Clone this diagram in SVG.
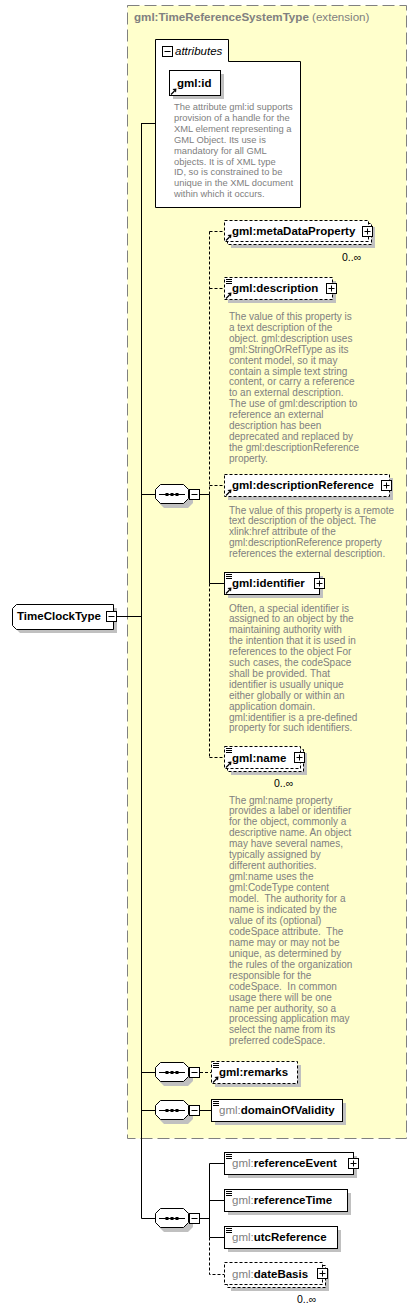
<svg xmlns="http://www.w3.org/2000/svg" xmlns:xlink="http://www.w3.org/1999/xlink" width="418" height="1312" viewBox="0 0 418 1312">
<style>
.lbl{font-family:"Liberation Sans",Arial,sans-serif;font-size:11.5px;font-weight:bold;fill:#000}
.gry{fill:#808080}
.doc{font-family:"Liberation Sans",Arial,sans-serif;font-size:10px;fill:#808080}
.occ{font-family:"Liberation Sans",Arial,sans-serif;font-size:10.5px;fill:#000}
.box{fill:#fff;stroke:#000;stroke-width:1}
.dbox{fill:#fff;stroke:#000;stroke-width:1;stroke-dasharray:3,2}
.sh{fill:#c0c0c0}
.ln{stroke:#000;stroke-width:1;fill:none}
.dln{stroke:#000;stroke-width:1;fill:none;stroke-dasharray:3,2}
</style>
<defs>
<g id="plus"><rect x="0.5" y="0.5" width="10" height="10" fill="#fff" stroke="#000"/><path d="M2.5 5.5h6M5.5 2.5v6" stroke="#000"/></g>
<g id="minus"><rect x="0.5" y="0.5" width="10" height="10" fill="#fff" stroke="#000"/><path d="M2.5 5.5h6" stroke="#000"/></g>
<g id="ref"><path d="M1 6.5 L4.5 3" stroke="#000" stroke-width="1.3"/><path d="M2.5 1 L6.5 0.5 L6 4.5 Z" fill="#000"/></g>
<g id="docic"><path d="M0 0.5h6M0 2.5h6M0 4.5h6" stroke="#000"/></g>
<g id="seq">
<polygon points="9,4 33,4 38,9 38,19 33,24 9,24 4,19 4,9" class="sh"/>
<polygon points="5.5,0.5 28.5,0.5 33.5,5.5 33.5,14.5 28.5,19.5 5.5,19.5 0.5,14.5 0.5,5.5" class="box"/>
<path d="M4 10.5h26" stroke="#000"/>
<rect x="10.5" y="9" width="3" height="3" fill="#000"/><rect x="15.5" y="9" width="3" height="3" fill="#000"/><rect x="20.5" y="9" width="3" height="3" fill="#000"/>
<use xlink:href="#minus" x="34" y="5"/>
</g>
</defs>

<g id="extension">
<rect x="127.5" y="5.5" width="279" height="1133" fill="#ffffcc" stroke="#808080" stroke-dasharray="12,5"/>
<text x="134" y="21" class="lbl gry" style="font-size:11.6px">gml:TimeReferenceSystemType <tspan style="font-weight:normal">(extension)</tspan></text>
</g>

<g id="connectors">
<path class="ln" d="M117 616.5H141.5M141.5 123V1218.5M141.5 123.5H155M141.5 494.5H155M141.5 1072.5H155M141.5 1110.5H155M141.5 1218.5H155"/>
<path class="ln" d="M200 494.5H209.5M209.5 494.5V583.5M209.5 583.5H224"/>
<path class="dln" d="M209.5 231.5V494.5M209.5 583.5V757.5M209.5 231.5H224M209.5 288.5H224M209.5 485.5H224M209.5 757.5H224"/>
<path class="dln" d="M200 1072.5H211"/>
<path class="ln" d="M200 1110.5H211"/>
<path class="ln" d="M200 1218.5H209.5M209.5 1163.5V1237.5M209.5 1163.5H224M209.5 1200.5H224M209.5 1237.5H224"/>
<path class="dln" d="M209.5 1237.5V1274.5H224"/>
</g>

<g id="TimeClockType">
<path d="M20 608H117V633H20L16 629V612Z" class="sh"/>
<path d="M16.5 604.5H113.5V629.5H16.5L12.5 625.5V608.5Z" class="box"/>
<text x="17" y="620" class="lbl">TimeClockType</text>
<use xlink:href="#minus" x="106" y="611"/>
</g>

<g id="attributes">
<path d="M155.5 39.5H228.5V61.5H300.5V207.5H155.5Z" class="box"/>
<use xlink:href="#minus" x="162" y="46"/>
<text x="175" y="55" style="font-family:'Liberation Sans',Arial,sans-serif;font-size:11.5px;font-style:italic">attributes</text>
</g>

<g id="gml_id">
<rect x="173" y="74" width="51" height="25" class="sh"/>
<rect x="169.5" y="70.5" width="51" height="25" class="box"/>
<text x="177" y="87" class="lbl">gml:id</text>
<use xlink:href="#ref" x="170" y="88"/>
<text class="doc" style="font-size:9.4px" x="174" y="110">The attribute gml:id supports<tspan x="174" dy="10.9">provision of a handle for the</tspan><tspan x="174" dy="10.9">XML element representing a</tspan><tspan x="174" dy="10.9">GML Object. Its use is</tspan><tspan x="174" dy="10.9">mandatory for all GML</tspan><tspan x="174" dy="10.9">objects. It is of XML type</tspan><tspan x="174" dy="10.9">ID, so is constrained to be</tspan><tspan x="174" dy="10.9">unique in the XML document</tspan><tspan x="174" dy="10.9">within which it occurs.</tspan></text>
</g>

<g id="seq1"><use xlink:href="#seq" x="155" y="484"/></g>

<g id="metaDataProperty">
<rect x="231" y="227" width="144" height="21" class="sh"/>
<rect x="227.5" y="223.5" width="144" height="21" class="dbox"/>
<rect x="224.5" y="220.5" width="144" height="21" class="dbox"/>
<text x="232" y="235" class="lbl">gml:metaDataProperty</text>
<use xlink:href="#ref" x="225" y="234"/>
<use xlink:href="#plus" x="362" y="226"/>
<text x="342" y="261" class="occ">0..∞</text>
</g>

<g id="description">
<rect x="228" y="281" width="108" height="22" class="sh"/>
<rect x="224.5" y="277.5" width="108" height="22" class="dbox"/>
<use xlink:href="#docic" x="226" y="279"/>
<text x="232" y="292" class="lbl">gml:description</text>
<use xlink:href="#ref" x="225" y="292"/>
<use xlink:href="#plus" x="326" y="283"/>
<text class="doc" x="229" y="320">The value of this property is<tspan x="229" dy="10.9">a text description of the</tspan><tspan x="229" dy="10.9">object. gml:description uses</tspan><tspan x="229" dy="10.9">gml:StringOrRefType as its</tspan><tspan x="229" dy="10.9">content model, so it may</tspan><tspan x="229" dy="10.9">contain a simple text string</tspan><tspan x="229" dy="10.9">content, or carry a reference</tspan><tspan x="229" dy="10.9">to an external description.</tspan><tspan x="229" dy="10.9">The use of gml:description to</tspan><tspan x="229" dy="10.9">reference an external</tspan><tspan x="229" dy="10.9">description has been</tspan><tspan x="229" dy="10.9">deprecated and replaced by</tspan><tspan x="229" dy="10.9">the gml:descriptionReference</tspan><tspan x="229" dy="10.9">property.</tspan></text>
</g>

<g id="descriptionReference">
<rect x="228" y="478" width="165" height="22" class="sh"/>
<rect x="224.5" y="474.5" width="165" height="22" class="dbox"/>
<text x="232" y="489" class="lbl">gml:descriptionReference</text>
<use xlink:href="#ref" x="225" y="489"/>
<use xlink:href="#plus" x="381" y="480"/>
<text class="doc" x="229" y="513.5">The value of this property is a remote<tspan x="229" dy="10.9">text description of the object. The</tspan><tspan x="229" dy="10.9">xlink:href attribute of the</tspan><tspan x="229" dy="10.9">gml:descriptionReference property</tspan><tspan x="229" dy="10.9">references the external description.</tspan></text>
</g>

<g id="identifier">
<rect x="228" y="576" width="95" height="22" class="sh"/>
<rect x="224.5" y="572.5" width="95" height="22" class="box"/>
<use xlink:href="#docic" x="226" y="574"/>
<text x="232" y="587" class="lbl">gml:identifier</text>
<use xlink:href="#ref" x="225" y="587"/>
<use xlink:href="#plus" x="314" y="578"/>
<text class="doc" x="229" y="611.5">Often, a special identifier is<tspan x="229" dy="10.9">assigned to an object by the</tspan><tspan x="229" dy="10.9">maintaining authority with</tspan><tspan x="229" dy="10.9">the intention that it is used in</tspan><tspan x="229" dy="10.9">references to the object For</tspan><tspan x="229" dy="10.9">such cases, the codeSpace</tspan><tspan x="229" dy="10.9">shall be provided. That</tspan><tspan x="229" dy="10.9">identifier is usually unique</tspan><tspan x="229" dy="10.9">either globally or within an</tspan><tspan x="229" dy="10.9">application domain.</tspan><tspan x="229" dy="10.9">gml:identifier is a pre-defined</tspan><tspan x="229" dy="10.9">property for such identifiers.</tspan></text>
</g>

<g id="name">
<rect x="231" y="753" width="76" height="22" class="sh"/>
<rect x="227.5" y="749.5" width="76" height="22" class="dbox"/>
<rect x="224.5" y="746.5" width="76" height="22" class="dbox"/>
<use xlink:href="#docic" x="226" y="748"/>
<text x="232" y="762" class="lbl">gml:name</text>
<use xlink:href="#ref" x="225" y="761"/>
<use xlink:href="#plus" x="294" y="752"/>
<text x="274" y="787" class="occ">0..∞</text>
<text class="doc" x="229" y="803.5">The gml:name property<tspan x="229" dy="10.95">provides a label or identifier</tspan><tspan x="229" dy="10.95">for the object, commonly a</tspan><tspan x="229" dy="10.95">descriptive name. An object</tspan><tspan x="229" dy="10.95">may have several names,</tspan><tspan x="229" dy="10.95">typically assigned by</tspan><tspan x="229" dy="10.95">different authorities.</tspan><tspan x="229" dy="10.95">gml:name uses the</tspan><tspan x="229" dy="10.95">gml:CodeType content</tspan><tspan x="229" dy="10.95" xml:space="preserve">model.  The authority for a</tspan><tspan x="229" dy="10.95">name is indicated by the</tspan><tspan x="229" dy="10.95">value of its (optional)</tspan><tspan x="229" dy="10.95" xml:space="preserve">codeSpace attribute.  The</tspan><tspan x="229" dy="10.95">name may or may not be</tspan><tspan x="229" dy="10.95">unique, as determined by</tspan><tspan x="229" dy="10.95">the rules of the organization</tspan><tspan x="229" dy="10.95">responsible for the</tspan><tspan x="229" dy="10.95" xml:space="preserve">codeSpace.  In common</tspan><tspan x="229" dy="10.95">usage there will be one</tspan><tspan x="229" dy="10.95">name per authority, so a</tspan><tspan x="229" dy="10.95">processing application may</tspan><tspan x="229" dy="10.95">select the name from its</tspan><tspan x="229" dy="10.95">preferred codeSpace.</tspan></text>
</g>

<g id="seq2"><use xlink:href="#seq" x="155" y="1062"/></g>

<g id="remarks">
<rect x="215" y="1065" width="86" height="22" class="sh"/>
<rect x="211.5" y="1061.5" width="86" height="22" class="dbox"/>
<use xlink:href="#docic" x="213" y="1063"/>
<text x="219" y="1076" class="lbl">gml:remarks</text>
<use xlink:href="#ref" x="212" y="1076"/>
</g>

<g id="seq3"><use xlink:href="#seq" x="155" y="1100"/></g>

<g id="domainOfValidity">
<rect x="215" y="1103" width="131" height="22" class="sh"/>
<rect x="211.5" y="1099.5" width="131" height="22" class="box"/>
<use xlink:href="#docic" x="213" y="1101"/>
<text x="219" y="1114" class="lbl"><tspan class="gry" style="font-weight:normal">gml:</tspan>domainOfValidity</text>
</g>

<g id="seq4"><use xlink:href="#seq" x="155" y="1208"/></g>

<g id="referenceEvent">
<rect x="228" y="1156" width="129" height="22" class="sh"/>
<rect x="224.5" y="1152.5" width="129" height="22" class="box"/>
<use xlink:href="#docic" x="226" y="1154"/>
<text x="232" y="1167" class="lbl"><tspan class="gry" style="font-weight:normal">gml:</tspan>referenceEvent</text>
<use xlink:href="#plus" x="348" y="1158"/>
</g>

<g id="referenceTime">
<rect x="228" y="1193" width="123" height="22" class="sh"/>
<rect x="224.5" y="1189.5" width="123" height="22" class="box"/>
<use xlink:href="#docic" x="226" y="1191"/>
<text x="232" y="1204" class="lbl"><tspan class="gry" style="font-weight:normal">gml:</tspan>referenceTime</text>
</g>

<g id="utcReference">
<rect x="228" y="1230" width="113" height="22" class="sh"/>
<rect x="224.5" y="1226.5" width="113" height="22" class="box"/>
<use xlink:href="#docic" x="226" y="1228"/>
<text x="232" y="1241" class="lbl"><tspan class="gry" style="font-weight:normal">gml:</tspan>utcReference</text>
</g>

<g id="dateBasis">
<rect x="231" y="1269" width="98" height="22" class="sh"/>
<rect x="227.5" y="1265.5" width="98" height="22" class="dbox"/>
<rect x="224.5" y="1262.5" width="98" height="22" class="dbox"/>
<text x="232" y="1278" class="lbl"><tspan class="gry" style="font-weight:normal">gml:</tspan>dateBasis</text>
<use xlink:href="#plus" x="317" y="1268"/>
<text x="297" y="1303" class="occ">0..∞</text>
</g>
</svg>
